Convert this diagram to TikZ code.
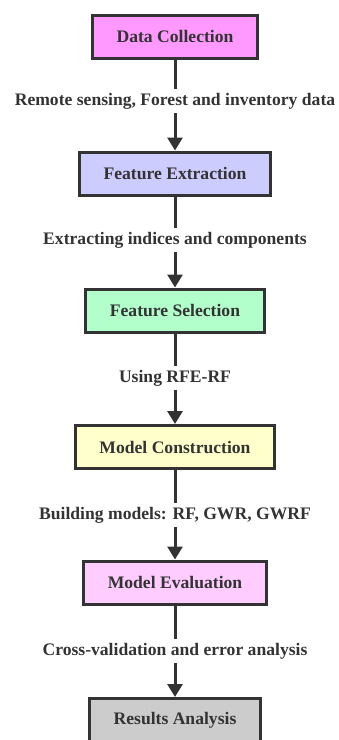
\documentclass[tikz,border=0pt]{standalone}
\usepackage{fontspec}
\setmainfont{Liberation Serif}
\usetikzlibrary{arrows.meta}
\definecolor{flowInk}{RGB}{51,51,51}
\definecolor{fillCollect}{RGB}{255,153,255}
\definecolor{fillExtract}{RGB}{204,204,255}
\definecolor{fillSelect}{RGB}{179,255,204}
\definecolor{fillBuild}{RGB}{255,255,204}
\definecolor{fillEval}{RGB}{255,204,255}
\definecolor{fillResult}{RGB}{204,204,204}
\newcommand{\flowFont}{\fontsize{17.6}{20}\selectfont\bfseries}

\begin{document}
\begin{tikzpicture}[x=1pt,y=-1pt,line cap=butt,line join=miter,
  stepbox/.style={draw=flowInk,line width=3pt,text=flowInk,font=\flowFont,
    inner xsep=24pt,minimum height=43pt},
  steplabel/.style={text=flowInk,font=\flowFont,inner sep=4pt},
  flowline/.style={draw=flowInk,line width=3pt},
  flowarrow/.style={flowline,-{Triangle[length=13pt,width=15pt]}}]
  \useasboundingbox (0,0) rectangle (339,740);
  % the six stages, top to bottom
  \node[stepbox,fill=fillCollect] (collect) at (175,36.5) {Data Collection};
  \node[stepbox,fill=fillExtract] (extract) at (175,173.5) {Feature Extraction};
  \node[stepbox,fill=fillSelect] (select) at (175,310.5) {Feature Selection};
  \node[stepbox,fill=fillBuild] (build) at (175,447) {Model Construction};
  \node[stepbox,fill=fillEval] (eval) at (175,582.5) {Model Evaluation};
  \node[stepbox,fill=fillResult] (result) at (175,720) {Results Analysis};
  % what is done between two stages
  \node[steplabel] (lCollect) at (175,101) {Remote sensing, Forest and inventory data};
  \node[steplabel] (lExtract) at (175,240) {Extracting indices and components};
  \node[steplabel] (lSelect) at (175,378) {Using RFE-RF};
  \node[steplabel] (lBuild) at (175,515) {Building models: RF, GWR, GWRF};
  \node[steplabel] (lEval) at (175,651) {Cross-validation and error analysis};
  % edges: plain line into the label, arrow out of it
  \draw[flowline] (collect) -- (lCollect);
  \draw[flowarrow] (lCollect) -- (extract);
  \draw[flowline] (extract) -- (lExtract);
  \draw[flowarrow] (lExtract) -- (select);
  \draw[flowline] (select) -- (lSelect);
  \draw[flowarrow] (lSelect) -- (build);
  \draw[flowline] (build) -- (lBuild);
  \draw[flowarrow] (lBuild) -- (eval);
  \draw[flowline] (eval) -- (lEval);
  \draw[flowarrow] (lEval) -- (result);
\end{tikzpicture}
\end{document}
